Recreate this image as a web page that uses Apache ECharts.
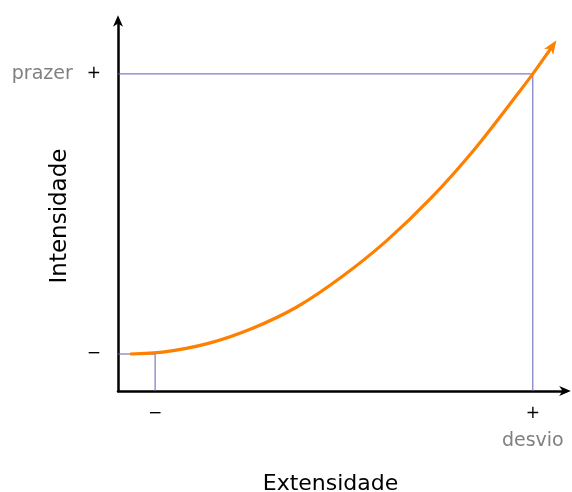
<!DOCTYPE html>
<html>
<head>
<meta charset="utf-8">
<script src="https://cdn.jsdelivr.net/npm/echarts@6/dist/echarts.min.js"></script>
<style>html,body{margin:0;padding:0;background:#fff;}#c{width:572px;height:492px;}</style>
</head>
<body>
<div id="c"></div>
<script>
// Data (abstract 0..10 units on both axes)
const curveX = [0.27, 1.0, 2.0, 3.0, 4.0, 5.0, 6.0, 7.0, 8.0, 9.0, 9.28, 9.55, 9.72];
const curveY = [1.00, 1.05, 1.28, 1.69, 2.27, 3.08, 4.05, 5.21, 6.57, 8.12, 8.57, 9.03, 9.32];
const xTickValues = [0.83, 9.28];
const xTickLabels = ['−', '+'];
const yTickValues = [1.00, 8.57];
const yTickLabels = ['−', '+'];
const xEndLabel = 'desvio';
const yEndLabel = 'prazer';
const xName = 'Extensidade';
const yName = 'Intensidade';

const FONT = 'DejaVu Sans';
const refColor = '#5e5eb2';
const arrowPath = 'path://M0,0 L6,14 L0,10 L-6,14 Z';

const curveData = curveX.map((x, i) => {
  const item = { value: [x, curveY[i]] };
  if (i === curveX.length - 1) {
    item.symbol = arrowPath;
    item.symbolSize = [11, 14];
    item.symbolRotate = -34;
  }
  return item;
});

function refLine(i) {
  return [[0, yTickValues[i]], [xTickValues[i], yTickValues[i]], [xTickValues[i], 0]];
}

const chart = echarts.init(document.getElementById('c'), null, { renderer: 'canvas' });
chart.setOption({
  animation: false,
  textStyle: { fontFamily: FONT },
  grid: { left: 118, width: 447, top: 21, height: 370, containLabel: false, outerBoundsMode: 'none' },
  xAxis: {
    type: 'value', min: 0, max: 10,
    splitLine: { show: false }, axisTick: { show: false },
    axisLine: { lineStyle: { color: '#000', width: 2.5 }, symbol: ['none', arrowPath], symbolSize: [10, 13] },
    axisLabel: {
      customValues: xTickValues,
      margin: 13,
      formatter: v => {
        const i = xTickValues.indexOf(v);
        const t = xTickLabels[i];
        return i === xTickValues.length - 1 ? '{p|' + t + '}\n{g|' + xEndLabel + '}' : '{p|' + t + '}';
      },
      rich: {
        p: { fontSize: 17, color: '#000', lineHeight: 20, fontFamily: FONT },
        g: { fontSize: 19, color: '#808080', lineHeight: 24, padding: [10, 0, 0, 0], fontFamily: FONT }
      }
    },
    name: xName, nameLocation: 'middle', nameGap: 82, nameMoveOverlap: false,
    nameTextStyle: { fontSize: 22, color: '#000', fontFamily: FONT, padding: [0, 22, 0, 0] }
  },
  yAxis: {
    type: 'value', min: 0, max: 10,
    splitLine: { show: false }, axisTick: { show: false },
    axisLine: { lineStyle: { color: '#000', width: 2.5 }, symbol: ['none', arrowPath], symbolSize: [10, 13] },
    axisLabel: {
      customValues: yTickValues,
      margin: 17,
      formatter: v => {
        const i = yTickValues.indexOf(v);
        const t = yTickLabels[i];
        return i === yTickValues.length - 1 ? '{g|' + yEndLabel + '}{p|' + t + '}' : '{p|' + t + '}';
      },
      rich: {
        p: { fontSize: 17, color: '#000', fontFamily: FONT },
        g: { fontSize: 19, color: '#808080', padding: [0, 14, 0, 0], fontFamily: FONT }
      }
    },
    name: yName, nameLocation: 'middle', nameGap: 46, nameMoveOverlap: false,
    nameTextStyle: { fontSize: 23, color: '#000', fontFamily: FONT, padding: [0, 20, 0, 0] }
  },
  series: [
    { type: 'line', data: refLine(0), symbol: 'none', lineStyle: { color: refColor, width: 1 }, z: 1 },
    { type: 'line', data: refLine(1), symbol: 'none', lineStyle: { color: refColor, width: 1 }, z: 1 },
    {
      type: 'line', data: curveData, smooth: 0.3, symbol: 'none', showSymbol: true,
      lineStyle: { color: '#ff8000', width: 3.2 }, itemStyle: { color: '#ff8000' }, z: 3
    }
  ]
});
</script>
</body>
</html>
